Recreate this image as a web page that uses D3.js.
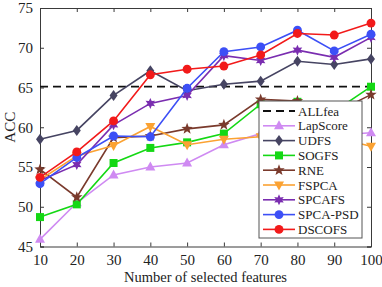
<!DOCTYPE html>
<html>
<head>
<meta charset="utf-8">
<script src="https://cdn.jsdelivr.net/npm/d3@7"></script>
<style>
  body { margin: 0; background: #fff; }
  svg { display: block; font-family: "Liberation Serif", "DejaVu Serif", serif; }
</style>
</head>
<body>
<svg id="chart" width="382" height="287"></svg>
<script>
// data
const features = [10, 20, 30, 40, 50, 60, 70, 80, 90, 100];
const allfea = 65.1;
const lapScore = [45.9, 50.5, 54.0, 55.0, 55.5, 57.8, 59.2, 59.6, 59.0, 59.3];
const udfs     = [58.5, 59.6, 64.0, 67.1, 64.6, 65.4, 65.8, 68.3, 67.9, 68.6];
const sogfs    = [48.7, 50.3, 55.5, 57.4, 58.1, 59.2, 62.9, 63.2, 62.0, 65.1];
const rne      = [54.7, 51.2, 58.7, 58.9, 59.8, 60.3, 63.5, 63.3, 61.8, 64.1];
const fspca    = [53.4, 56.4, 57.7, 60.1, 57.8, 58.5, 58.8, 59.0, 58.7, 57.6];
const spcafs   = [53.3, 55.3, 60.3, 63.0, 64.0, 69.0, 68.4, 69.7, 68.8, 71.3];
const spcaPsd  = [52.9, 56.2, 58.9, 58.8, 64.9, 69.5, 70.1, 72.2, 69.6, 71.7];
const dscofs   = [53.7, 56.9, 60.8, 66.6, 67.3, 67.7, 69.1, 71.8, 71.6, 73.1];
const yTicks = [45, 50, 55, 60, 65, 70, 75];

const series = [
  { name: 'LapScore', values: lapScore, color: '#cf8af2', shape: 'triUp' },
  { name: 'UDFS', values: udfs, color: '#464462', shape: 'diamond' },
  { name: 'SOGFS', values: sogfs, color: '#14d814', shape: 'square' },
  { name: 'RNE', values: rne, color: '#7a3a2c', shape: 'star5' },
  { name: 'FSPCA', values: fspca, color: '#fba232', shape: 'triDown' },
  { name: 'SPCAFS', values: spcafs, color: '#7a2db0', shape: 'star6' },
  { name: 'SPCA-PSD', values: spcaPsd, color: '#3c4ff6', shape: 'circle' },
  { name: 'DSCOFS', values: dscofs, color: '#f21a1a', shape: 'circle' }
];

const margin = { top: 8, right: 11, bottom: 40.5, left: 40 };
const width = 382 - margin.left - margin.right;
const height = 287 - margin.top - margin.bottom;

const svg = d3.select('#chart');
const g = svg.append('g').attr('transform', `translate(${margin.left},${margin.top})`);

const x = d3.scaleLinear().domain([10, 100]).range([0, width]);
const y = d3.scaleLinear().domain([45, 75]).range([height, 0]);

// marker paths
function starPath(n, outer, inner) {
  const pts = [];
  for (let i = 0; i < n * 2; i++) {
    const r = i % 2 === 0 ? outer : inner;
    const a = -Math.PI / 2 + i * Math.PI / n;
    pts.push([r * Math.cos(a), r * Math.sin(a)]);
  }
  return 'M' + pts.map(p => p.join(',')).join('L') + 'Z';
}
const shapes = {
  circle: d3.symbol(d3.symbolCircle, 62)(),
  square: 'M-4,-4L4,-4L4,4L-4,4Z',
  diamond: 'M0,-5.5L4,0L0,5.5L-4,0Z',
  triUp: 'M0,-5.5L5,3.5L-5,3.5Z',
  triDown: 'M0,5.5L5,-3.5L-5,-3.5Z',
  star5: starPath(5, 6, 2.5),
  star6: starPath(6, 5.5, 2.8)
};

// axes box with inward ticks
const xAxis = d3.axisBottom(x).tickValues(features).tickSize(-4).tickPadding(8);
const yAxis = d3.axisLeft(y).tickValues(yTicks).tickSize(-4).tickPadding(7);

g.append('g').attr('transform', `translate(0,${height})`).call(xAxis);
g.append('g').call(yAxis);
g.append('g').call(d3.axisTop(x).tickValues(features).tickSize(-4).tickFormat(''));
g.append('g').attr('transform', `translate(${width},0)`)
  .call(d3.axisRight(y).tickValues(yTicks).tickSize(-4).tickFormat(''));

g.selectAll('.domain').attr('stroke', '#3a3a3a');
g.selectAll('.tick line').attr('stroke', '#3a3a3a');
g.selectAll('.tick text')
  .attr('font-family', '"Liberation Serif", serif')
  .attr('font-size', 15)
  .attr('fill', '#222');

// ALLfea dashed baseline
g.append('line')
  .attr('x1', 0).attr('x2', width)
  .attr('y1', y(allfea)).attr('y2', y(allfea))
  .attr('stroke', '#111').attr('stroke-width', 1.8)
  .attr('stroke-dasharray', '8,5');

const line = d3.line().x((d, i) => x(features[i])).y(d => y(d));

series.forEach(s => {
  const sg = g.append('g');
  sg.append('path')
    .attr('d', line(s.values))
    .attr('fill', 'none')
    .attr('stroke', s.color)
    .attr('stroke-width', 1.6);
  sg.selectAll('path.m')
    .data(s.values)
    .enter().append('path')
    .attr('class', 'm')
    .attr('d', shapes[s.shape])
    .attr('transform', (d, i) => `translate(${x(features[i])},${y(d)})`)
    .attr('fill', s.color);
});

// legend
const legX = 259 - margin.left, legY = 101 - margin.top;
const legend = g.append('g').attr('transform', `translate(${legX},${legY})`);
const rowH = 14.8;
legend.append('rect')
  .attr('width', 103).attr('height', 137)
  .attr('fill', '#fff').attr('stroke', '#555').attr('stroke-width', 1);

const legendItems = [{ name: 'ALLfea', dashed: true, color: '#111' }].concat(series);
legendItems.forEach((s, i) => {
  const cy = 10 + i * rowH;
  const row = legend.append('g').attr('transform', `translate(0,${cy})`);
  row.append('line')
    .attr('x1', 4).attr('x2', 36)
    .attr('stroke', s.color)
    .attr('stroke-width', s.dashed ? 1.8 : 1.6)
    .attr('stroke-dasharray', s.dashed ? '8,5' : null);
  if (s.shape) {
    row.append('path')
      .attr('d', shapes[s.shape])
      .attr('transform', 'translate(20,0)')
      .attr('fill', s.color);
  }
  row.append('text')
    .attr('x', 39).attr('y', 4.5)
    .attr('font-size', 13)
    .attr('fill', '#222')
    .text(s.name);
});

// axis labels
svg.append('text')
  .attr('x', margin.left + width / 2).attr('y', 282)
  .attr('text-anchor', 'middle')
  .attr('font-size', 14.5)
  .attr('fill', '#222')
  .text('Number of selected features');

svg.append('text')
  .attr('transform', `translate(15,${margin.top + height / 2}) rotate(-90)`)
  .attr('text-anchor', 'middle')
  .attr('font-size', 15)
  .attr('fill', '#222')
  .text('ACC');
</script>
</body>
</html>
